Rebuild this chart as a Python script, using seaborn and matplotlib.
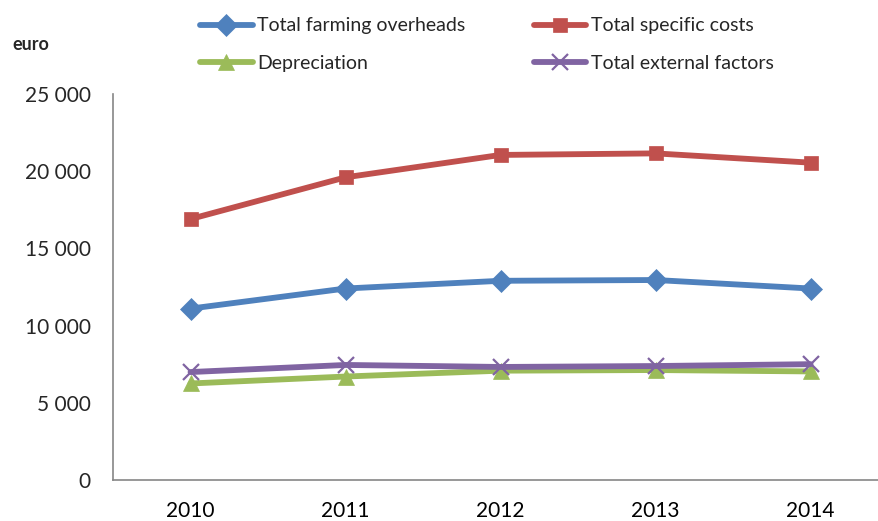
import matplotlib
matplotlib.use("Agg")
import matplotlib.pyplot as plt
import seaborn as sns
import pandas as pd
from matplotlib.ticker import FuncFormatter, FixedLocator

years = ["2010", "2011", "2012", "2013", "2014"]
overheads = [11100, 12400, 12900, 12950, 12400]
specific_costs = [16900, 19600, 21050, 21150, 20550]
depreciation = [6250, 6700, 7080, 7120, 7030]
external_factors = [6990, 7450, 7320, 7380, 7500]

series = [
    ("Total farming overheads", overheads, "#4F81BD", "D", 11),
    ("Total specific costs", specific_costs, "#C0504D", "s", 10),
    ("Depreciation", depreciation, "#9BBB59", "^", 12),
    ("Total external factors", external_factors, "#8064A2", "x", 11),
]

sns.set_style("white")
plt.rcParams["font.family"] = ["Lato", "DejaVu Sans"]

fig = plt.figure(figsize=(8.79, 5.21), dpi=100)
ax = fig.add_axes([0.1286, 0.0787, 0.8817, 0.741])

handles = {}
for name, vals, color, marker, ms in series:
    df = pd.DataFrame({"x": range(len(years)), "y": vals})
    sns.lineplot(data=df, x="x", y="y", color=color, marker=marker, markersize=ms,
                 linewidth=4.2, markeredgecolor=color, markeredgewidth=1.6 if marker == "x" else 0.5,
                 ax=ax, label=name, legend=False)
    handles[name] = ax.lines[-1]

ax.set_xlim(-0.5, 4.5)
ax.set_ylim(0, 25000)
ax.yaxis.set_major_locator(FixedLocator(range(0, 25001, 5000)))
ax.yaxis.set_major_formatter(FuncFormatter(lambda v, p: f"{v:,.0f}".replace(",", " ")))
ax.set_xticks(range(len(years)))
ax.set_xticklabels(years)
ax.set_xticks([i - 0.5 for i in range(len(years) + 1)], minor=True)
ax.tick_params(axis="x", which="major", length=0, pad=15, labelsize=15, colors="black")
ax.tick_params(axis="x", which="minor", length=6, width=1, color="#868686", direction="out")
ax.tick_params(axis="y", length=6, width=1, color="#868686", direction="out", pad=10, labelsize=15)
ax.set_xlabel("")
ax.set_ylabel("")

for s in ["top", "right"]:
    ax.spines[s].set_visible(False)
for s in ["left", "bottom"]:
    ax.spines[s].set_color("#868686")
    ax.spines[s].set_linewidth(1.2)
ax.grid(False)

order = ["Total farming overheads", "Depreciation", "Total specific costs", "Total external factors"]
fig.legend([handles[n] for n in order], order, ncol=2, loc="upper center",
           bbox_to_anchor=(0.554, 1.0), frameon=False, fontsize=14,
           handlelength=2.7, handletextpad=0.25, columnspacing=3.5, labelspacing=1.05)

fig.text(12 / 879, 1 - 45 / 521, "euro", fontsize=13, fontweight="bold", va="center", ha="left")

fig.savefig("out.png", dpi=100)
